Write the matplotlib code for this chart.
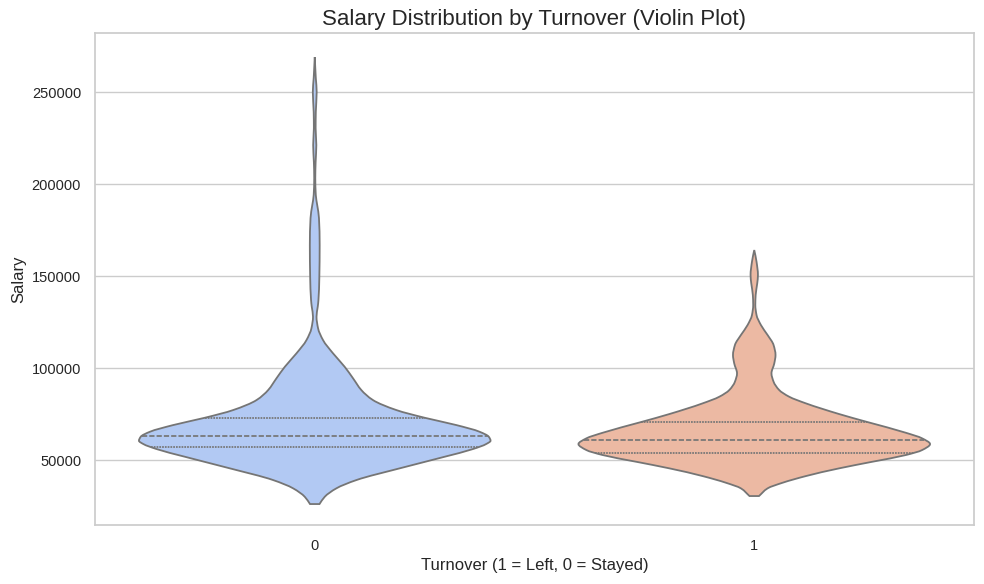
import numpy as np
import matplotlib
matplotlib.use("Agg")
import matplotlib.pyplot as plt
from matplotlib.path import Path
from matplotlib.patches import PathPatch

categories = ["0", "1"]
colors = ["#b2c9f3", "#ecb9a3"]
outline = "#757575"

salary_0 = [26086, 30050, 34620, 39130, 45490, 51800, 55980, 58700, 60490, 62660,
            65380, 69020, 72990, 77175, 82610, 88045, 94400, 100710, 108000, 115220,
            121580, 127880, 133320, 136960, 148917, 166853, 181530, 188590,
            194030, 203267, 211963, 221203, 230442, 239138, 250008, 257617, 269031]
density_0 = [.027, .057, .123, .237, .483, .739, .9, .975, 1.0, .99,
             .9375, .805, .625, .464, .331, .265, .218, .17, .104, .047,
             .019, .01, .017, .021, .026, .028, .024, .014,
             .006, .003, .005, .009, .005, .006, .011, .006, 0.0]

salary_1 = [30434, 34620, 37660, 41300, 45490, 49080, 52720, 55435, 58696, 61790,
            64840, 70650, 75000, 80800, 84400, 88045, 92560, 97120, 102560, 107070,
            112500, 117940, 123370, 128800, 134240, 139680, 146020, 150550, 157780, 164135]
density_1 = [.027, .076, .161, .294, .483, .672, .862, .955, 1.0, .955,
             .862, .644, .483, .294, .199, .142, .11, .098, .114, .121,
             .11, .076, .038, .013, .006, .008, .017, .021, .013, 0.0]

quartiles_0 = [57200, 63000, 73000]
quartiles_1 = [54000, 60900, 70650]

violin_half_width = 0.4


def slopes(y, x):
    # shape-preserving tangents so the outline is a smooth curve through the readings
    h = np.diff(y)
    d = np.diff(x) / h
    m = np.zeros_like(x)
    for i in range(1, len(x) - 1):
        if d[i - 1] * d[i] > 0:
            w1 = 2 * h[i] + h[i - 1]
            w2 = h[i] + 2 * h[i - 1]
            m[i] = (w1 + w2) / (w1 / d[i - 1] + w2 / d[i])
    m[0] = d[0]
    m[-1] = d[-1]
    return m


def violin_path(pos, sal, half):
    m = slopes(sal, half)
    dy = np.diff(sal)
    verts = [(pos - half[0], sal[0])]
    codes = [Path.MOVETO]
    for i in range(len(sal) - 1):
        verts += [(pos - (half[i] + m[i] * dy[i] / 3), sal[i] + dy[i] / 3),
                  (pos - (half[i + 1] - m[i + 1] * dy[i] / 3), sal[i + 1] - dy[i] / 3),
                  (pos - half[i + 1], sal[i + 1])]
        codes += [Path.CURVE4] * 3
    verts.append((pos + half[-1], sal[-1]))
    codes.append(Path.LINETO)
    for i in range(len(sal) - 1, 0, -1):
        verts += [(pos + (half[i] - m[i] * dy[i - 1] / 3), sal[i] - dy[i - 1] / 3),
                  (pos + (half[i - 1] + m[i - 1] * dy[i - 1] / 3), sal[i - 1] + dy[i - 1] / 3),
                  (pos + half[i - 1], sal[i - 1])]
        codes += [Path.CURVE4] * 3
    verts.append(verts[0])
    codes.append(Path.CLOSEPOLY)
    return Path(verts, codes)


plt.rcParams["font.family"] = ["Liberation Sans", "DejaVu Sans"]
fig = plt.figure(figsize=(9.84, 5.84), dpi=100)
ax = fig.add_axes([95 / 984, 1 - 525 / 584, (974 - 95) / 984, (525 - 33) / 584])

series = [(salary_0, density_0, quartiles_0), (salary_1, density_1, quartiles_1)]
for pos, (sal, dens, quarts) in enumerate(series):
    sal = np.array(sal, float)
    half = np.array(dens, float) * violin_half_width
    ax.add_patch(PathPatch(violin_path(pos, sal, half), facecolor=colors[pos],
                           edgecolor=outline, linewidth=1.3, zorder=2))
    for i, q in enumerate(quarts):
        h = np.interp(q, sal, half)
        style = (0, (3, 1.2)) if i == 1 else (0, (1, 0.6))
        ax.plot([pos - h, pos + h], [q, q], color=outline, lw=1.25, ls=style,
                zorder=3, dash_capstyle="butt")

ax.set_xlim(-0.5, 1.5)
ax.set_ylim(14700, 282100)
ax.set_xticks(range(len(categories)))
ax.set_xticklabels(categories)
ax.set_yticks([50000, 100000, 150000, 200000, 250000])
ax.grid(axis="y", color="#cccccc", lw=1.0, zorder=0)
ax.set_axisbelow(True)
for s in ax.spines.values():
    s.set_color("#cccccc")
    s.set_linewidth(1.25)
ax.tick_params(axis="x", length=0, labelsize=10.5, labelcolor="#262626", pad=10)
ax.tick_params(axis="y", length=0, labelsize=10.5, labelcolor="#262626", pad=10)
ax.set_title("Salary Distribution by Turnover (Violin Plot)", fontsize=16, color="#262626", pad=6)
ax.set_xlabel("Turnover (1 = Left, 0 = Stayed)", fontsize=12, color="#262626", labelpad=4)
ax.set_ylabel("Salary", fontsize=12, color="#262626", labelpad=4)

fig.savefig("out.png", dpi=100)
